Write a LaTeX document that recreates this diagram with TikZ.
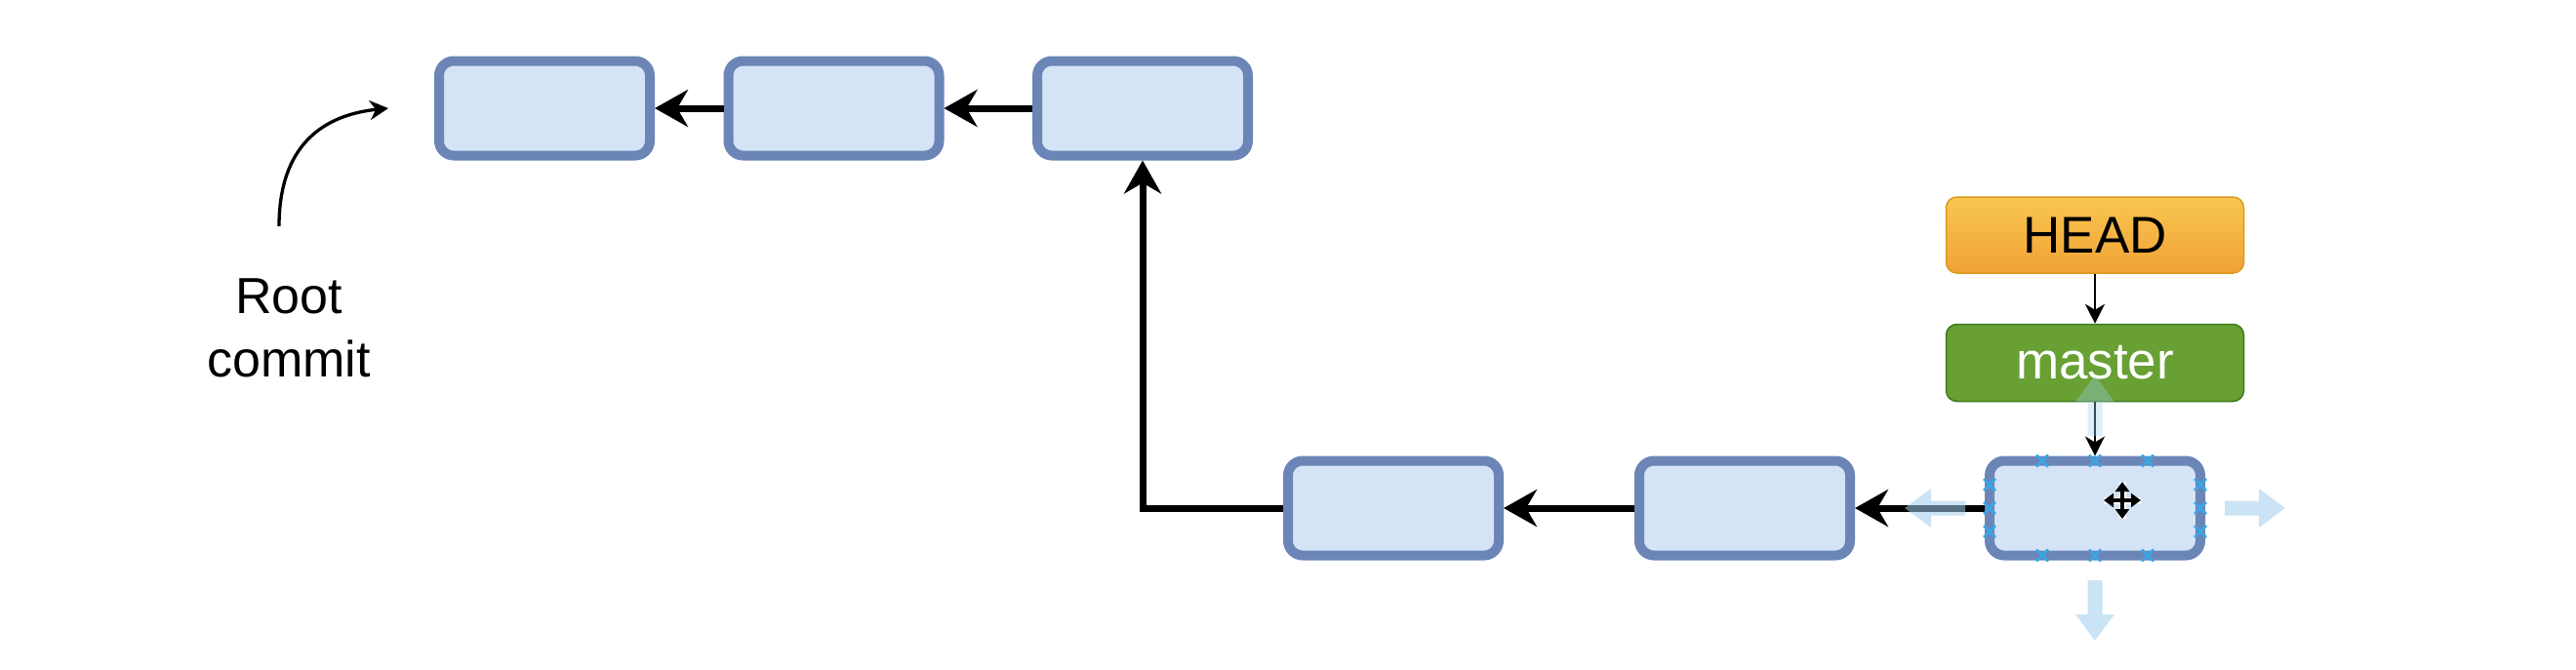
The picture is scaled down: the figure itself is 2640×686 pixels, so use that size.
\documentclass[tikz,border=0pt]{standalone}
\usepackage{fontspec}
\setmainfont{Liberation Sans}
\usetikzlibrary{arrows.meta}
\definecolor{cfill}{HTML}{D5E3F6}
\definecolor{cstroke}{HTML}{6B86B6}
\definecolor{headtop}{HTML}{F8C650}
\definecolor{headbot}{HTML}{F1A236}
\definecolor{headline}{HTML}{D99A1E}
\definecolor{mfill}{HTML}{68A034}
\definecolor{mline}{HTML}{3F7A1C}
\definecolor{hoverblue}{HTML}{9FCFF0}
\definecolor{xblue}{HTML}{3AA6E6}
\begin{document}
\begin{tikzpicture}[x=1pt,y=-1pt,
  commit/.style={draw=cstroke, fill=cfill, line width=10pt, rounded corners=15pt,
    minimum width=216pt, minimum height=97pt, inner sep=0pt},
  link/.style={line width=7pt, -{Stealth[length=34pt,width=38pt,inset=11pt]}},
  ptr/.style={line width=2.4pt, -{Stealth[length=20pt,width=20pt,inset=6pt]}},
  curvearrow/.style={line width=3.3pt, -{Stealth[length=19pt,width=20pt,inset=6pt]}},
  label/.style={font=\fontsize{52}{65}\selectfont, align=center, inner sep=0pt},
  headbox/.style={draw=headline, top color=headtop, bottom color=headbot, line width=1.5pt,
    rounded corners=11pt, minimum width=305pt, minimum height=78pt, inner sep=0pt,
    font=\fontsize{53}{60}\selectfont, text=black},
  branchbox/.style={draw=mline, fill=mfill, line width=1.5pt,
    rounded corners=11pt, minimum width=305pt, minimum height=79pt, inner sep=0pt,
    font=\fontsize{53}{60}\selectfont, text=white},
  xmark/.style={draw=xblue, line width=2.6pt},
  hoverarrow/.pic={\fill[hoverblue, fill opacity=0.55] (0,-7.5) -- (35,-7.5) -- (35,-20) -- (62,0) -- (35,20) -- (35,7.5) -- (0,7.5) -- cycle;},
  faintarrow/.pic={\fill[hoverblue, fill opacity=0.35] (0,-7.5) -- (35,-7.5) -- (35,-20) -- (62,0) -- (35,20) -- (35,7.5) -- (0,7.5) -- cycle;}
]
\fill[white] (0,0) rectangle (2640,686);
\useasboundingbox (0,0) rectangle (2640,686);

% top row
\node[commit] (c1) at (558,111) {};
\node[commit] (c2) at (854.5,111) {};
\node[commit] (c3) at (1171,111) {};
% bottom row
\node[commit] (c4) at (1428,521) {};
\node[commit] (c5) at (1788,521) {};
\node[commit] (c6) at (2147,521) {};

% refs
\node[headbox] (head) at (2147,241) {HEAD};
\node[branchbox] (master) at (2147,372) {master};

% label
\node[label] (root) at (296,336) {Root\\commit};
\coordinate (rs) at (286,232);
\coordinate (re) at (398,111);
\draw[curvearrow] (rs) .. controls (286,150) and (330,118) .. (re);

% connectors
\draw[link] (c2) -- (c1);
\draw[link] (c3) -- (c2);
\draw[link] (c5) -- (c4);
\draw[link] (c6) -- (c5);
\draw[link] (c4.west) -| (c3.south);
\draw[ptr] (head.south) -- (master.north);
\draw[ptr] (master.south) -- (c6.north);

% connection point marks on selected commit
\foreach \dx in {-54,0,54} {
  \draw[xmark] (2147+\dx-6,466.5) -- (2147+\dx+6,478.5) (2147+\dx-6,478.5) -- (2147+\dx+6,466.5);
  \draw[xmark] (2147+\dx-6,563.5) -- (2147+\dx+6,575.5) (2147+\dx-6,575.5) -- (2147+\dx+6,563.5);
}
\foreach \dy in {-24,0,24} {
  \draw[xmark] (2033,521+\dy-6) -- (2045,521+\dy+6) (2033,521+\dy+6) -- (2045,521+\dy-6);
  \draw[xmark] (2249,521+\dy-6) -- (2261,521+\dy+6) (2249,521+\dy+6) -- (2261,521+\dy-6);
}

% hover arrows
\pic at (2280,521) {hoverarrow};
\pic[rotate=180] at (2014,521) {hoverarrow};
\pic[rotate=-90] at (2147,595) {hoverarrow};
\pic[rotate=90] at (2147,447) {faintarrow};

% move cursor
\draw[white, line width=7pt] (2175,494) -- (2175,532) (2156,513) -- (2194,513);
\draw[line width=3.4pt, {Triangle[length=10pt,width=14pt]}-{Triangle[length=10pt,width=14pt]}] (2175,494) -- (2175,532);
\draw[line width=3.4pt, {Triangle[length=10pt,width=14pt]}-{Triangle[length=10pt,width=14pt]}] (2156,513) -- (2194,513);
\end{tikzpicture}
\end{document}
